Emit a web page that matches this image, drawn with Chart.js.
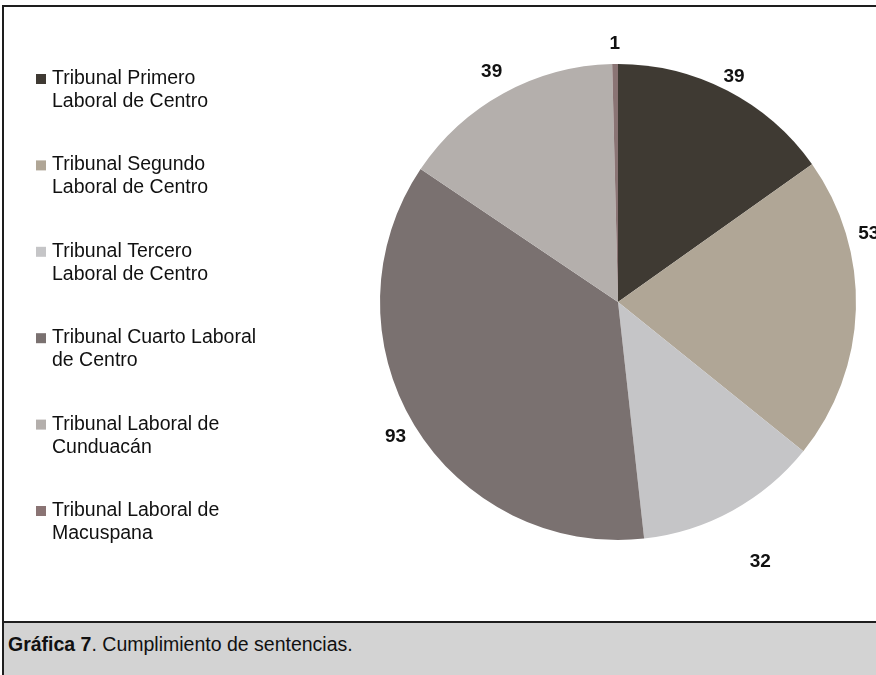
<!DOCTYPE html>
<html>
<head>
<meta charset="utf-8">
<script src="https://cdn.jsdelivr.net/npm/chart.js@4/dist/chart.umd.min.js"></script>
<style>
    body { margin: 0; background: #ffffff; font-family: "Liberation Sans", Arial, sans-serif; }
    #marco { position: absolute; left: 2px; top: 5px; width: 900px; height: 700px;
             border-left: 2px solid #1e1e1e; border-top: 2px solid #1e1e1e; }
    #grafica { position: absolute; left: 0; top: 0; width: 876px; height: 620px; }
    #pie { position: absolute; left: 4px; top: 621px; width: 900px; height: 60px;
           background: #d3d3d3; border-top: 2px solid #1e1e1e; }
    #pie p { margin: 0; position: absolute; left: 4px; top: 10px; font-size: 19.5px; color: #111; }
</style>
</head>
<body>
<div id="marco"></div>
<div id="grafica"><canvas id="myChartPie"></canvas></div>
<div id="pie"><p><b>Gráfica 7</b>. Cumplimiento de sentencias.</p></div>
<script>
    // Datos
    var tribunales = [
        ["Tribunal Primero", "Laboral de Centro"],
        ["Tribunal Segundo", "Laboral de Centro"],
        ["Tribunal Tercero", "Laboral de Centro"],
        ["Tribunal Cuarto Laboral", "de Centro"],
        ["Tribunal Laboral de", "Cunduacán"],
        ["Tribunal Laboral de", "Macuspana"]
    ]
    var sentencias = [39, 53, 32, 93, 39, 1]
    var colores = ["#3f3a33", "#b0a696", "#c5c5c7", "#7a7170", "#b4afac", "#8a7474"]

    // Etiquetas de valor fuera del pastel
    var etiquetasValor = {
        id: "etiquetasValor",
        afterDatasetsDraw: function(chart, args, opts){
            var ctx = chart.ctx
            var meta = chart.getDatasetMeta(0)
            ctx.save()
            ctx.font = "bold 19px 'Liberation Sans', Arial, sans-serif"
            ctx.fillStyle = "#111111"
            ctx.textAlign = "center"
            ctx.textBaseline = "middle"
            meta.data.forEach(function(arc, i){
                var p = arc.getProps(["x", "y", "startAngle", "endAngle", "outerRadius"], true)
                var ajuste = opts.ajustes[i] || {}
                var dist = p.outerRadius + (ajuste.d !== undefined ? ajuste.d : opts.distancia)
                var ang = (p.startAngle + p.endAngle) / 2 + (ajuste.a || 0) * Math.PI / 180
                ctx.fillText(String(chart.data.datasets[0].data[i]), p.x + Math.cos(ang) * dist, p.y + Math.sin(ang) * dist)
            })
            ctx.restore()
        }
    }

    // Leyenda a la izquierda, con etiquetas de dos líneas
    var leyenda = {
        id: "leyenda",
        afterDraw: function(chart, args, opts){
            var ctx = chart.ctx
            var ds = chart.data.datasets[0]
            ctx.save()
            ctx.font = "19.5px 'Liberation Sans', Arial, sans-serif"
            ctx.textBaseline = "alphabetic"
            ctx.textAlign = "left"
            chart.data.labels.forEach(function(lineas, i){
                var base = opts.top + i * opts.paso
                ctx.fillStyle = ds.backgroundColor[i]
                ctx.fillRect(opts.left, base - 10, 10, 10)
                ctx.fillStyle = "#111111"
                lineas.forEach(function(txt, j){
                    ctx.fillText(txt, opts.left + 16, base + j * 23)
                })
            })
            ctx.restore()
        }
    }

    var ctx = document.getElementById("myChartPie").getContext("2d")
    var canva_chart = new Chart(ctx, {
        type: "pie",
        data: {
            labels: tribunales,
            datasets: [{
                data: sentencias,
                backgroundColor: colores,
                borderWidth: 0
            }]
        },
        options: {
            responsive: true,
            maintainAspectRatio: false,
            animation: false,
            layout: { padding: { left: 380, right: 20, top: 64, bottom: 80 } },
            plugins: {
                legend: { display: false },
                tooltip: { enabled: false },
                etiquetasValor: {
                    distancia: 22,
                    ajustes: [{ d: 15 }, { a: -17 }, { d: 58 }, {}, { d: 25 }, { d: 20 }]
                },
                leyenda: { left: 36, top: 84, paso: 86.4 }
            }
        },
        plugins: [etiquetasValor, leyenda]
    })
</script>
</body>
</html>
